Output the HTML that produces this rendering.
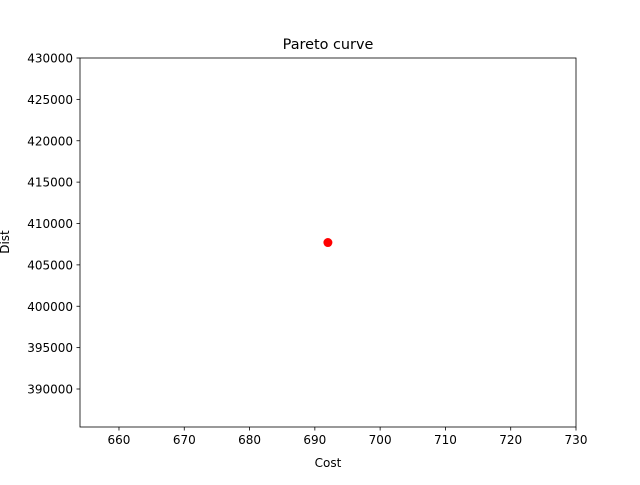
<!DOCTYPE html>
<html><head><meta charset="utf-8"><style>
body{margin:0;background:#fff;}
svg text{font-family:"DejaVu Sans","Liberation Sans",sans-serif;fill:#000;}
</style></head><body>
<svg id="chart" width="640" height="480" xmlns="http://www.w3.org/2000/svg">
<rect width="640" height="480" fill="#fff"/>
<text x="328" y="49" font-size="14.4" text-anchor="middle">Pareto curve</text>
<g id="ticks"></g>
<g id="marks"></g>
<rect x="80" y="58" width="496" height="369" fill="none" stroke="#000" stroke-width="0.8"/>
<text x="328" y="467" font-size="12" text-anchor="middle">Cost</text>
<text transform="translate(9,242) rotate(-90)" font-size="12" text-anchor="middle">Dist</text>
</svg>
<script>
const costs = [692];
const dists = [407700];
const xTicks = [660, 670, 680, 690, 700, 710, 720, 730];
const yTicks = [390000, 395000, 400000, 405000, 410000, 415000, 420000, 425000, 430000];
const X0=80,X1=576,Y0=427,Y1=58;
const xMin=654.03,xMax=730,yMin=385408,yMax=430000;
function sx(v){return X0+(v-xMin)/(xMax-xMin)*(X1-X0);}
function sy(v){return Y0-(v-yMin)/(yMax-yMin)*(Y0-Y1);}
const NS="http://www.w3.org/2000/svg";
const tg=document.getElementById('ticks'),mg=document.getElementById('marks');
function mk(t,a,p){const e=document.createElementNS(NS,t);for(const k in a)e.setAttribute(k,a[k]);p.appendChild(e);return e;}
xTicks.forEach(v=>{const x=sx(v);
 const l=mk('line',{x1:x,x2:x,y1:Y0,y2:Y0+3.5,stroke:'#000','stroke-width':0.8},tg);
 
 
 const t=mk('text',{x:x,y:Y0+17,'font-size':12,'text-anchor':'middle'},tg);t.textContent=v;
 
 
});
yTicks.forEach(v=>{const y=sy(v);
 const l=mk('line',{x1:X0-3.5,x2:X0,y1:y,y2:y,stroke:'#000','stroke-width':0.8},tg);
 
 
 const t=mk('text',{x:X0-7,y:y+4.5,'font-size':12,'text-anchor':'end'},tg);t.textContent=v;
 
 
});
costs.forEach((c,i)=>{
 const p=mk('circle',{cx:sx(c),cy:sy(dists[i]),r:4.5,fill:'#ff0000'},mg);
 
 
});
</script>
</body></html>
